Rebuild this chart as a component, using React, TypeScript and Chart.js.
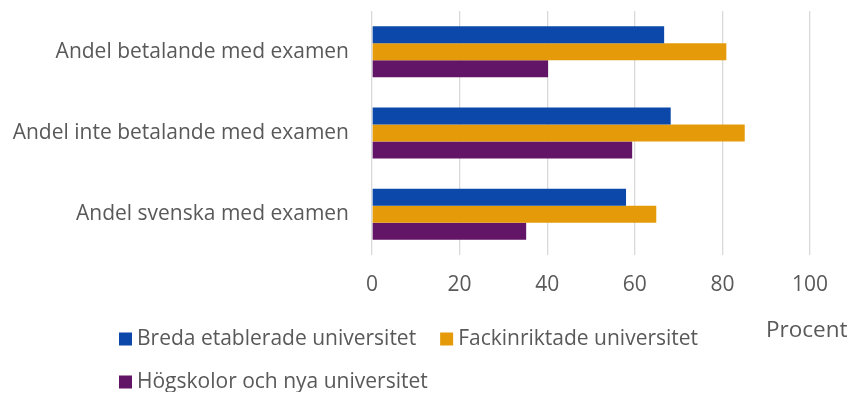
import React, { useEffect, useRef } from "react";
import { Chart, registerables } from "chart.js";

Chart.register(...registerables);

const categories = [
  "Andel betalande med examen",
  "Andel inte betalande med examen",
  "Andel svenska med examen",
];
const seriesNames = [
  "Breda etablerade universitet",
  "Fackinriktade universitet",
  "Högskolor och nya universitet",
];
const bredaValues = [66.7, 68.2, 58.0];
const fackValues = [80.9, 85.1, 64.9];
const hogskolorValues = [40.2, 59.4, 35.2];
const seriesColors = ["#0B48A9", "#E59B09", "#621467"];
const axisTitle = "Procent";

const FONT = "'Open Sans'";
const TEXT_COLOR = "#595959";
const FONT_SIZE = 21;

const legendPlugin = {
  id: "customLegend",
  afterDraw(chart: any) {
    const ctx = chart.ctx;
    ctx.save();
    ctx.font = `${FONT_SIZE}px ${FONT}`;
    ctx.textBaseline = "middle";
    ctx.textAlign = "left";
    const items = chart.data.datasets.map((d: any) => ({ text: d.label, color: d.backgroundColor }));
    const rows = [[items[0], items[1]], [items[2]]];
    const startX = 111;
    const rowY = [331, 374];
    const box = 13;
    rows.forEach((row, r) => {
      let x = startX;
      row.forEach((it: any) => {
        ctx.fillStyle = it.color;
        ctx.fillRect(x, rowY[r] - box / 2, box, box);
        ctx.fillStyle = TEXT_COLOR;
        ctx.fillText(it.text, x + box + 5, rowY[r]);
        x += box + 5 + ctx.measureText(it.text).width + 24;
      });
    });
    ctx.font = `22.5px ${FONT}`;
    ctx.fillStyle = TEXT_COLOR;
    ctx.fillText(axisTitle, 758, 323);
    ctx.restore();
  },
};

export default function App() {
  const ref = useRef<HTMLCanvasElement>(null);
  useEffect(() => {
    if (!ref.current) return;
    const chart = new Chart(ref.current, {
      type: "bar",
      data: {
        labels: categories,
        datasets: [
          { label: seriesNames[0], data: bredaValues, backgroundColor: seriesColors[0] },
          { label: seriesNames[1], data: fackValues, backgroundColor: seriesColors[1] },
          { label: seriesNames[2], data: hogskolorValues, backgroundColor: seriesColors[2] },
        ],
      },
      options: {
        indexAxis: "y",
        responsive: false,
        animation: false,
        layout: { padding: { left: 0, right: 46, top: 3, bottom: 77 } },
        datasets: { bar: { categoryPercentage: 0.627, barPercentage: 1.0 } },
        plugins: { legend: { display: false }, tooltip: { enabled: false } },
        scales: {
          x: {
            min: 0,
            max: 100,
            ticks: {
              stepSize: 20,
              color: TEXT_COLOR,
              font: { family: FONT, size: FONT_SIZE },
              padding: 17,
            },
            grid: { color: "#D9D9D9", lineWidth: 1.3, drawTicks: false },
            border: { display: false },
            afterFit: (s: any) => {
              s.height = 60;
              s.paddingLeft = 0;
              s.paddingRight = 0;
            },
          },
          y: {
            ticks: {
              color: TEXT_COLOR,
              font: { family: FONT, size: FONT_SIZE },
              padding: 23,
            },
            grid: { display: false, drawTicks: false },
            border: { display: false },
            afterFit: (s: any) => {
              s.width = 364;
              s.paddingTop = 0;
              s.paddingBottom = 0;
            },
          },
        },
      },
      plugins: [legendPlugin],
    });
    return () => chart.destroy();
  }, []);
  return <canvas ref={ref} width={848} height={384} />;
}
